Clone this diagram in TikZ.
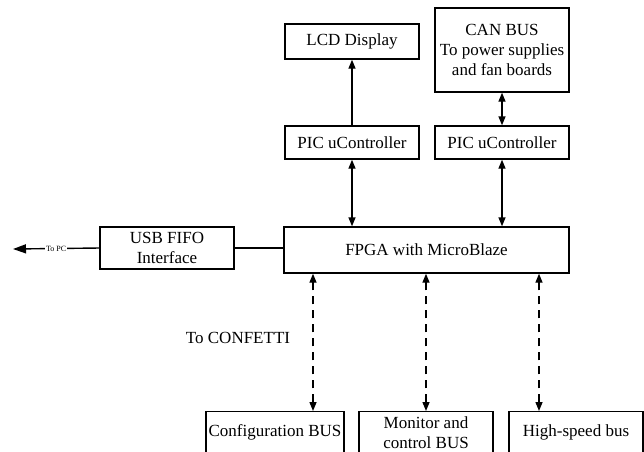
\documentclass[tikz,border=0pt]{standalone}
\usepackage{fontspec}
\setmainfont{Liberation Serif}
\usetikzlibrary{arrows.meta,positioning}

\begin{document}
\begin{tikzpicture}[x=1pt,y=-1pt,
box/.style={draw,line width=1.4pt,align=center,inner sep=0pt,minimum width=134pt,font=\fontsize{17}{20}\selectfont},
bus/.style={box,anchor=north,minimum height=42pt},
link/.style={line width=1.4pt},
uni/.style={link,-{Triangle[length=9pt,width=7pt]}},
bidi/.style={link,{Triangle[length=9pt,width=7pt]}-{Triangle[length=9pt,width=7pt]}},
dbus/.style={bidi,dash pattern=on 8pt off 6pt}]
\useasboundingbox (0,0) rectangle (644,451);
\clip (0,0) rectangle (644,451);
\node[box,minimum height=35pt] (lcd) at (352,41.5) {LCD Display};
\node[box,minimum height=84pt] (can) at (502,50) {CAN BUS\\To power supplies\\and fan boards};
\node[box,minimum height=33pt] (pic1) at (352,142.5) {PIC uController};
\node[box,minimum height=33pt] (pic2) at (502,142.5) {PIC uController};
\node[box,minimum width=285pt,minimum height=46pt] (fpga) at (426.5,250) {FPGA with MicroBlaze};
\node[box,minimum height=42pt] (usb) at (167,248) {USB FIFO\\Interface};
\node[bus,minimum width=138pt,inner xsep=1pt] (cfg) at (275,411) {Configuration BUS};
\node[bus] (mon) at (426,411) {Monitor and\\control BUS};
\node[bus] (hsb) at (576,411) {High-speed bus};
\node[font=\fontsize{17}{20}\selectfont] (confetti) at (238,338) {To CONFETTI};
\coordinate (pc) at (13,249);
\draw[uni] (pic1) -- (lcd);
\draw[bidi] (pic2) -- (can);
\draw[bidi] (pic1.south) -- (pic1.south |- fpga.north);
\draw[bidi] (pic2.south) -- (pic2.south |- fpga.north);
\draw[link] (usb.east) -- (usb.east -| fpga.west);
\draw[link,-{Triangle[length=13pt,width=9pt]}] (usb.west) -- node[fill=white,inner sep=1pt,font=\fontsize{8}{9}\selectfont]{To PC} (pc);
\draw[dbus] ([xshift=38pt]cfg.north) -- ([xshift=38pt]cfg.north |- fpga.south);
\draw[dbus] (mon.north) -- (mon.north |- fpga.south);
\draw[dbus] ([xshift=-37pt]hsb.north) -- ([xshift=-37pt]hsb.north |- fpga.south);
\end{tikzpicture}
\end{document}
